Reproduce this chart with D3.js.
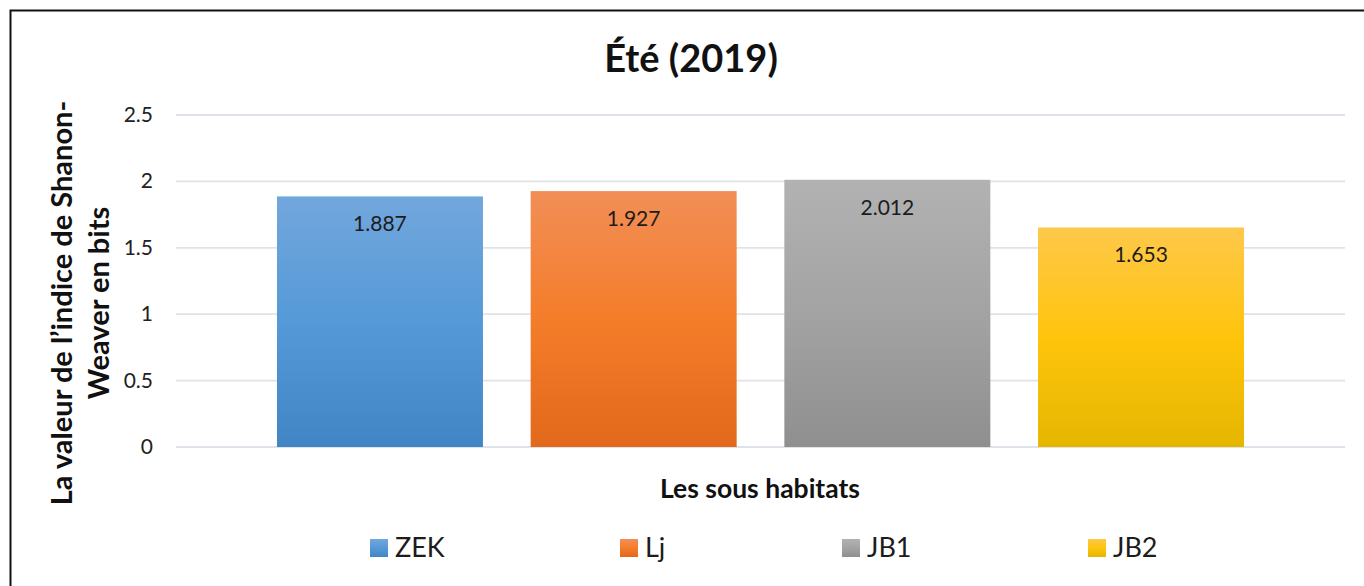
<!DOCTYPE html>
<html>
<head>
<meta charset="utf-8">
<script src="https://cdn.jsdelivr.net/npm/d3@7"></script>
<style>
  html, body { margin: 0; padding: 0; background: #fff; }
  svg { display: block; font-family: Lato, "Open Sans", sans-serif; }
</style>
</head>
<body>
<svg id="chart" width="1364" height="586"></svg>
<script>
(function () {
  "use strict";

  // data
  const title = "Été (2019)";
  const series = ["ZEK", "Lj", "JB1", "JB2"];
  const values = [1.887, 1.927, 2.012, 1.653];
  const yTicks = [0, 0.5, 1, 1.5, 2, 2.5];
  const yLabelLines = ["La valeur de l’indice de Shanon-", "Weaver en bits"];
  const xLabel = "Les sous habitats";
  const gradStops = [
    ["#72a7dc", "#5599d8", "#4285c5"],
    ["#f28e57", "#f47d2a", "#e2681b"],
    ["#b2b2b2", "#a3a3a3", "#8f8f8f"],
    ["#fec84a", "#ffc40c", "#e5b600"],
  ];

  const svg = d3.select("#chart");
  const plot = { left: 176, right: 1345, top: 115, bottom: 447 };

  const y = d3.scaleLinear().domain([0, 2.5]).range([plot.bottom, plot.top]);
  const x = d3.scaleBand()
    .domain(series)
    .range([plot.left, plot.right])
    .paddingInner(0.188)
    .paddingOuter(0.398);

  // outer frame (only top/left visible in the picture)
  svg.append("rect")
    .attr("x", 10.5).attr("y", 10.5)
    .attr("width", 1400).attr("height", 600)
    .attr("fill", "none")
    .attr("stroke", "#111")
    .attr("stroke-width", 2);

  const defs = svg.append("defs");
  series.forEach((s, i) => {
    const g = defs.append("linearGradient")
      .attr("id", "grad-" + i)
      .attr("x1", 0).attr("y1", 0).attr("x2", 0).attr("y2", 1);
    gradStops[i].forEach((c, k) => {
      g.append("stop").attr("offset", (k * 50) + "%").attr("stop-color", c);
    });
  });

  // title
  svg.append("text")
    .attr("x", 691).attr("y", 72)
    .attr("text-anchor", "middle")
    .attr("font-size", 38).attr("font-weight", 700)
    .attr("fill", "#111")
    .text(title);

  // gridlines
  svg.append("g")
    .selectAll("line")
    .data(yTicks)
    .enter()
    .append("line")
    .attr("x1", plot.left).attr("x2", plot.right)
    .attr("y1", (d) => y(d)).attr("y2", (d) => y(d))
    .attr("stroke", "#dfe3e9")
    .attr("stroke-width", 1.8);

  // y tick labels
  svg.append("g")
    .selectAll("text")
    .data(yTicks)
    .enter()
    .append("text")
    .attr("x", 153)
    .attr("y", (d) => y(d) + 7)
    .attr("text-anchor", "end")
    .attr("font-size", 21)
    .attr("fill", "#222")
    .text((d) => String(d));

  // bars
  svg.append("g")
    .selectAll("rect")
    .data(values)
    .enter()
    .append("rect")
    .attr("x", (d, i) => x(series[i]))
    .attr("width", x.bandwidth())
    .attr("y", (d) => y(d))
    .attr("height", (d) => y(0) - y(d))
    .attr("fill", (d, i) => `url(#grad-${i})`);

  // value labels
  svg.append("g")
    .selectAll("text")
    .data(values)
    .enter()
    .append("text")
    .attr("x", (d, i) => x(series[i]) + x.bandwidth() / 2)
    .attr("y", (d) => y(d) + 35)
    .attr("text-anchor", "middle")
    .attr("font-size", 21)
    .attr("fill", "#1c1c1c")
    .text((d) => d.toFixed(3));

  // axis titles
  svg.append("text")
    .attr("x", 760).attr("y", 498)
    .attr("text-anchor", "middle")
    .attr("font-size", 26.5).attr("font-weight", 700)
    .attr("fill", "#111")
    .text(xLabel);

  const yl = svg.append("text")
    .attr("transform", "translate(72,303) rotate(-90)")
    .attr("text-anchor", "middle")
    .attr("font-size", 29).attr("font-weight", 700)
    .attr("fill", "#111");
  yLabelLines.forEach((line, i) => {
    yl.append("tspan")
      .attr("x", 0)
      .attr("y", i * 37)
      .text(line);
  });

  // legend
  const legendX = [370, 620, 842, 1088];
  const legend = svg.append("g")
    .selectAll("g")
    .data(series)
    .enter()
    .append("g")
    .attr("transform", (d, i) => `translate(${legendX[i]},539)`);
  legend.append("rect")
    .attr("width", 18).attr("height", 18)
    .attr("fill", (d, i) => `url(#grad-${i})`);
  legend.append("text")
    .attr("x", 25).attr("y", 18)
    .attr("font-size", 27)
    .attr("fill", "#1c1c1c")
    .text((d) => d);
})();
</script>
</body>
</html>
